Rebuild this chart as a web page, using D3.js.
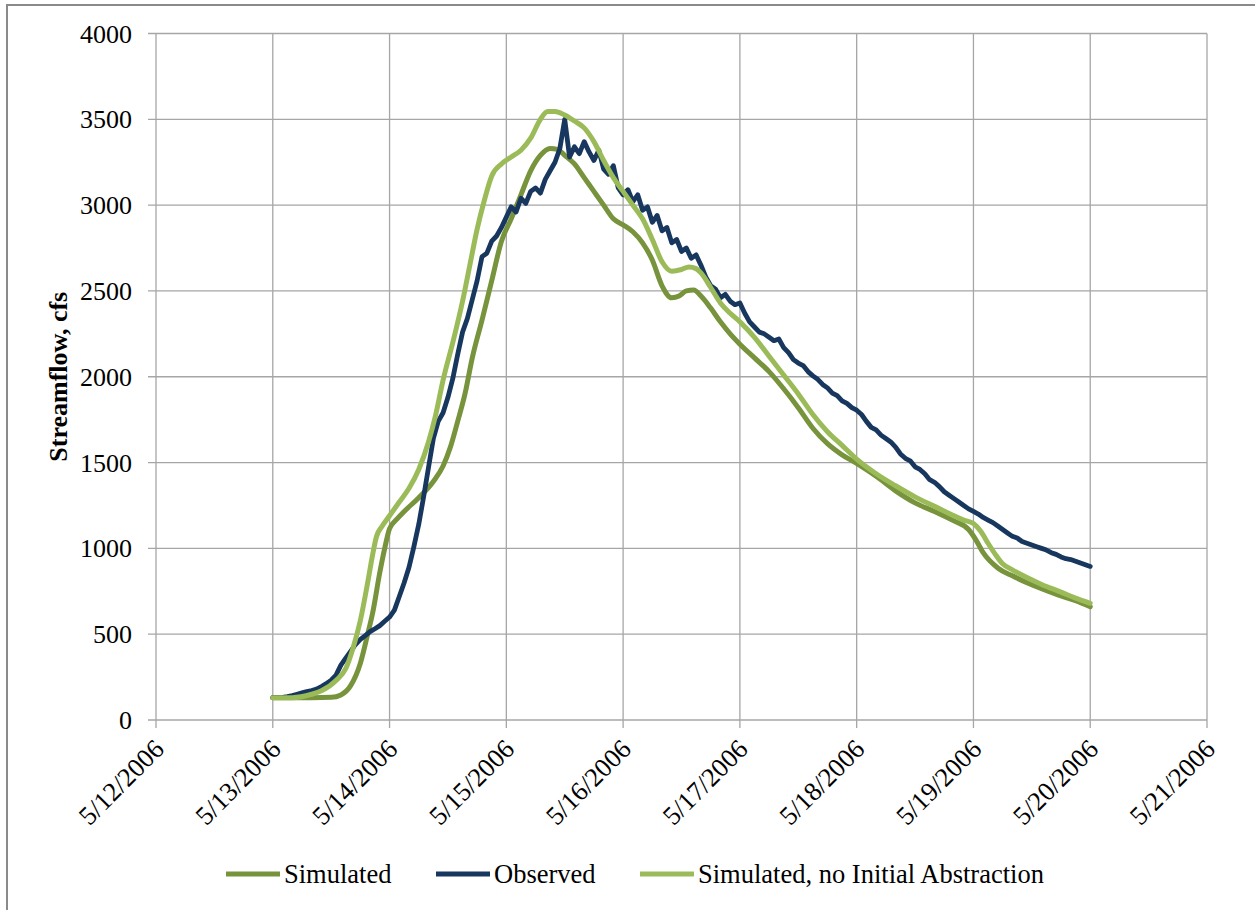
<!DOCTYPE html>
<html>
<head>
<meta charset="utf-8">
<script src="https://cdn.jsdelivr.net/npm/d3@7"></script>
<style>
  html, body { margin: 0; padding: 0; background: #fff; }
  svg { display: block; }
  text { font-family: "Liberation Serif", "Times New Roman", serif; fill: #000; }
</style>
</head>
<body>
<svg id="chart" width="1255" height="910"></svg>
<script>
// Axis ticks
const yTicks = [0, 500, 1000, 1500, 2000, 2500, 3000, 3500, 4000];
const dateTicks = ["5/12/2006", "5/13/2006", "5/14/2006", "5/15/2006", "5/16/2006",
                   "5/17/2006", "5/18/2006", "5/19/2006", "5/20/2006", "5/21/2006"];

// Series names
const seriesNames = ["Simulated", "Observed", "Simulated, no Initial Abstraction"];

// Observed streamflow, hourly from 5/13/2006 00:00 (cfs)
const observedFlow = [
  130, 130, 132, 136, 142, 150, 158, 166, 172, 180,
  195, 212, 232, 262, 320, 360, 400, 440, 470, 492,
  515, 532, 550, 575, 600, 640, 720, 800, 890, 1010,
  1140, 1300, 1470, 1640, 1740, 1790, 1880, 1990, 2130, 2260,
  2340, 2450, 2560, 2700, 2720, 2790, 2820, 2870, 2930, 2990,
  2960, 3040, 3010, 3080, 3100, 3070, 3150, 3200, 3250, 3330,
  3500, 3280, 3340, 3300, 3370, 3310, 3260, 3320, 3210, 3180,
  3230, 3100, 3060, 3090, 3020, 3060, 2970, 2990, 2900, 2940,
  2850, 2870, 2780, 2800, 2730, 2750, 2690, 2710, 2650, 2580,
  2530, 2510, 2460, 2480, 2440, 2420, 2430, 2370, 2320, 2290,
  2260, 2250, 2230, 2210, 2220, 2170, 2140, 2100, 2080, 2065,
  2030, 2005, 1985, 1955, 1935, 1905, 1890, 1860, 1845, 1820,
  1805, 1780, 1740, 1705, 1690, 1660, 1640, 1620, 1590, 1550,
  1525, 1510, 1475, 1460, 1435, 1400, 1385, 1360, 1330, 1310,
  1290, 1270, 1250, 1230, 1215, 1200, 1180, 1165, 1150, 1130,
  1110, 1090, 1070, 1060, 1040, 1030, 1020, 1010, 1000, 990,
  975, 965, 950, 940, 935, 925, 915, 905, 895
];

// Simulated streamflow: hours after 5/13/2006 00:00 and flow (cfs)
const simulatedHours = [0, 8, 12, 14, 16, 18, 19.5, 20.5, 22, 23, 24, 25.5, 27, 30, 33, 35, 36.5, 38, 39.5,
  41, 43, 45, 47, 49, 51, 53, 55, 57, 58.5, 60, 62, 64, 66, 68, 70, 72, 74, 76, 78, 80, 82, 83.5, 85,
  86.5, 88, 90, 92, 94, 96, 99, 102, 105, 108, 111, 114, 117, 120, 124, 128, 132, 136, 140, 143,
  144.5, 146, 149, 152, 155, 158, 161.5, 165, 168];
const simulatedFlow = [130, 130, 132, 146, 200, 331, 500, 620, 860, 1000, 1115, 1170, 1215, 1295, 1390, 1480, 1590, 1740, 1900,
  2110, 2330, 2560, 2790, 2920, 3060, 3200, 3290, 3330, 3325, 3290, 3240, 3160, 3080, 3000, 2920, 2885, 2845, 2780, 2680, 2530, 2460, 2470, 2500,
  2505, 2470, 2400, 2320, 2250, 2190, 2110, 2030, 1930, 1820, 1700, 1610, 1545, 1495, 1420, 1335, 1265, 1215, 1160, 1110,
  1050, 975, 886, 840, 800, 765, 728, 695, 660];

// Simulated with no initial abstraction: hours after 5/13/2006 00:00 and flow (cfs)
const noAbstractionHours = [0, 4, 8, 10, 13, 15, 16.5, 18, 19.5, 20.5, 21.3, 22.5, 24, 26, 28, 30, 32, 33.5, 35, 37,
  39, 40.5, 42, 43.5, 45, 47, 49, 51, 53, 55, 56.5, 58, 60, 62, 64, 66, 68, 70, 72, 74, 76, 78, 80, 82,
  84, 85.5, 87, 88, 90, 92, 94, 96, 99, 102, 105, 108, 111, 114, 117, 120, 124, 128, 132, 136, 140, 142,
  144, 145.5, 147, 148.5, 150, 152, 155, 158, 162, 165, 168];
const noAbstractionFlow = [130, 130, 150, 170, 230, 300, 420, 580, 800, 960, 1068, 1130, 1190, 1270, 1350, 1460, 1620, 1780, 1980, 2200,
  2440, 2650, 2860, 3030, 3170, 3240, 3280, 3320, 3390, 3500, 3545, 3545, 3525, 3490, 3450, 3370, 3260, 3160, 3080, 3000, 2920, 2800, 2670, 2615,
  2625, 2640, 2630, 2605, 2520, 2430, 2370, 2320, 2230, 2120, 2010, 1900, 1780, 1680, 1600, 1520, 1435, 1365, 1300, 1245, 1190, 1165,
  1145, 1100, 1030, 965, 910, 875, 830, 790, 745, 710, 680];

const colors = ["#77933C", "#17375E", "#9BBB59"];

const svg = d3.select("#chart");
const margin = { left: 156, right: 1207, top: 33.5, bottom: 720 };
const start = new Date(2006, 4, 13);
const atHour = h => new Date(start.getTime() + h * 3600 * 1000);

const x = d3.scaleTime()
  .domain([new Date(2006, 4, 12), new Date(2006, 4, 21)])
  .range([margin.left, margin.right]);
const y = d3.scaleLinear().domain([0, 4000]).range([margin.bottom, margin.top]);

// Outer chart frame
svg.append("rect")
  .attr("x", 7).attr("y", 5).attr("width", 1270).attr("height", 930)
  .attr("fill", "none").attr("stroke", "#8a8a8a").attr("stroke-width", 2);

// Gridlines
const tickDates = dateTicks.map((d, i) => new Date(2006, 4, 12 + i));
svg.append("g").selectAll("line").data(yTicks).join("line")
  .attr("x1", margin.left - 8).attr("x2", margin.right)
  .attr("y1", d => y(d)).attr("y2", d => y(d))
  .attr("stroke", "#a6a6a6").attr("stroke-width", 1.3);
svg.append("g").selectAll("line").data(tickDates).join("line")
  .attr("x1", d => x(d)).attr("x2", d => x(d))
  .attr("y1", margin.top).attr("y2", margin.bottom + 8)
  .attr("stroke", "#a6a6a6").attr("stroke-width", 1.3);

// Y tick labels
svg.append("g").selectAll("text").data(yTicks).join("text")
  .attr("x", 132).attr("y", d => y(d))
  .attr("dy", "0.35em")
  .attr("text-anchor", "end")
  .style("font-size", "26px")
  .text(d => d);

// X tick labels, rotated
svg.append("g").selectAll("text").data(tickDates).join("text")
  .attr("transform", d => `translate(${x(d) + 3},${margin.bottom + 24}) rotate(-45)`)
  .attr("text-anchor", "end")
  .attr("dy", "0.35em")
  .style("font-size", "26.5px")
  .text((d, i) => dateTicks[i]);

// Y axis title
svg.append("text")
  .attr("transform", `translate(58,${(margin.top + margin.bottom) / 2}) rotate(-90)`)
  .attr("text-anchor", "middle")
  .attr("dy", "0.35em")
  .style("font-size", "26px")
  .style("font-weight", "bold")
  .text("Streamflow, cfs");

// Series lines
const smooth = d3.line().x(d => x(d[0])).y(d => y(d[1])).curve(d3.curveMonotoneX);
const jagged = d3.line().x(d => x(d[0])).y(d => y(d[1]));

const simPts = simulatedHours.map((h, i) => [atHour(h), simulatedFlow[i]]);
const obsPts = observedFlow.map((v, i) => [atHour(i), v]);
const niaPts = noAbstractionHours.map((h, i) => [atHour(h), noAbstractionFlow[i]]);

const lines = svg.append("g").attr("fill", "none").attr("stroke-linejoin", "round").attr("stroke-linecap", "round");
lines.append("path").attr("d", smooth(simPts)).attr("stroke", colors[0]).attr("stroke-width", 5);
lines.append("path").attr("d", jagged(obsPts)).attr("stroke", colors[1]).attr("stroke-width", 4.8);
lines.append("path").attr("d", smooth(niaPts)).attr("stroke", colors[2]).attr("stroke-width", 5);

// Legend
const legendX = [226, 436, 640];
const legend = svg.append("g");
seriesNames.forEach((name, i) => {
  legend.append("line")
    .attr("x1", legendX[i]).attr("x2", legendX[i] + 54)
    .attr("y1", 874).attr("y2", 874)
    .attr("stroke", colors[i]).attr("stroke-width", 5);
  legend.append("text")
    .attr("x", legendX[i] + 58).attr("y", 874)
    .attr("dy", "0.35em")
    .style("font-size", "26.5px")
    .text(name);
});
</script>
</body>
</html>
